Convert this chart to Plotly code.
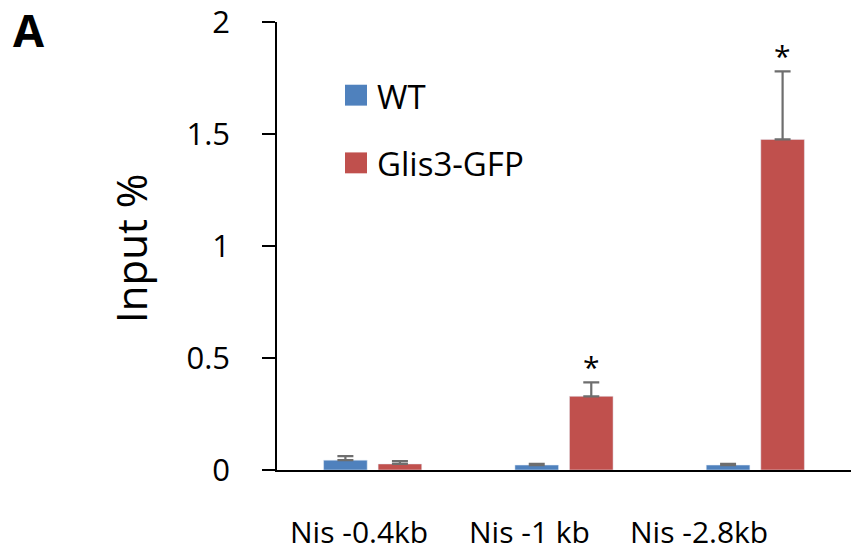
import plotly.graph_objects as go

categories = ["Nis -0.4kb", "Nis -1 kb", "Nis -2.8kb"]
wt_values = [0.044, 0.022, 0.022]
wt_err = [0.018, 0.005, 0.005]
glis_values = [0.027, 0.329, 1.476]
glis_err = [0.013, 0.062, 0.304]
significant = [False, True, True]
series_names = ["WT", "Glis3-GFP"]
y_ticks = [0, 0.5, 1, 1.5, 2]
y_ticklabels = ["0", "0.5", "1", "1.5", "2"]

BLUE = "#4F81BD"
RED = "#C0504D"
FONT = "Open Sans"

# plot area in pixels
L, R, T, B = 277, 851, 20, 470
W, H = R - L, B - T
def px(x):
    return (x - L) / W
def py(y):
    return (B - y) / H

err_style = dict(type="data", symmetric=False, color="#6e6e6e", thickness=2.2, width=8)

fig = go.Figure()
fig.add_trace(go.Bar(
    x=categories, y=wt_values, name=series_names[0], marker=dict(color=BLUE),
    error_y=dict(array=wt_err, arrayminus=[0] * len(wt_err), **err_style),
    showlegend=False,
))
fig.add_trace(go.Bar(
    x=categories, y=glis_values, name=series_names[1], marker=dict(color=RED),
    error_y=dict(array=glis_err, arrayminus=[0] * len(glis_err), **err_style),
    showlegend=False,
))

annotations = []
# significance stars
for c, v, e, s in zip(categories, glis_values, glis_err, significant):
    if s:
        annotations.append(dict(x=c, y=v + e, xref="x", yref="y", text="*",
                                showarrow=False, xshift=27, yshift=-7, yanchor="bottom",
                                font=dict(family=FONT, size=30, color="black")))
# category labels (offset as in reference)
label_shift = [-14, -35, -56]
for c, sh in zip(categories, label_shift):
    annotations.append(dict(x=c, y=py(532), xref="x", yref="paper", text=c,
                            showarrow=False, xshift=sh, yanchor="middle",
                            font=dict(family=FONT, size=30, color="black")))
# y title
annotations.append(dict(x=px(131), y=py(247), xref="paper", yref="paper",
                        text="Input %", textangle=-90, showarrow=False,
                        xanchor="center", yanchor="middle",
                        font=dict(family=FONT, size=42, color="black")))
# panel letter
annotations.append(dict(x=px(11), y=py(28), xref="paper", yref="paper",
                        text="<b>A</b>", showarrow=False, xanchor="left", yanchor="middle",
                        font=dict(family=FONT, size=45, color="black")))
# manual legend
shapes = []
legend_rows = [(series_names[0], BLUE, 93.5), (series_names[1], RED, 161.5)]
for name, col, yc in legend_rows:
    shapes.append(dict(type="rect", xref="paper", yref="paper",
                       x0=px(345), x1=px(367), y0=py(yc + 10.5), y1=py(yc - 10.5),
                       fillcolor=col, line=dict(width=0)))
    annotations.append(dict(x=px(375), y=py(yc + 1), xref="paper", yref="paper",
                            text=name, showarrow=False, xanchor="left", yanchor="middle",
                            font=dict(family=FONT, size=33, color="black")))

fig.update_layout(
    width=851, height=556,
    margin=dict(l=L, r=851 - R, t=T, b=556 - B, pad=0),
    paper_bgcolor="white", plot_bgcolor="white",
    barmode="group", bargap=0.43, bargroupgap=0.2,
    annotations=annotations, shapes=shapes,
    xaxis=dict(showticklabels=False, showline=True, linecolor="black", linewidth=2,
               ticks="", showgrid=False, zeroline=False, range=[-0.5, 2.5]),
    yaxis=dict(range=[0, 2], tickvals=y_ticks, ticktext=y_ticklabels,
               showline=True, linecolor="black", linewidth=1.5,
               ticks="outside", ticklen=13, tickwidth=1.5, tickcolor="black",
               ticklabelstandoff=26, ticklabeloverflow="allow",
               showgrid=False, zeroline=False,
               tickfont=dict(family=FONT, size=31, color="black")),
)

fig.write_html("out.html", config={"displayModeBar": False},
               post_script="document.body.style.margin='0';document.body.style.overflow='hidden';")
